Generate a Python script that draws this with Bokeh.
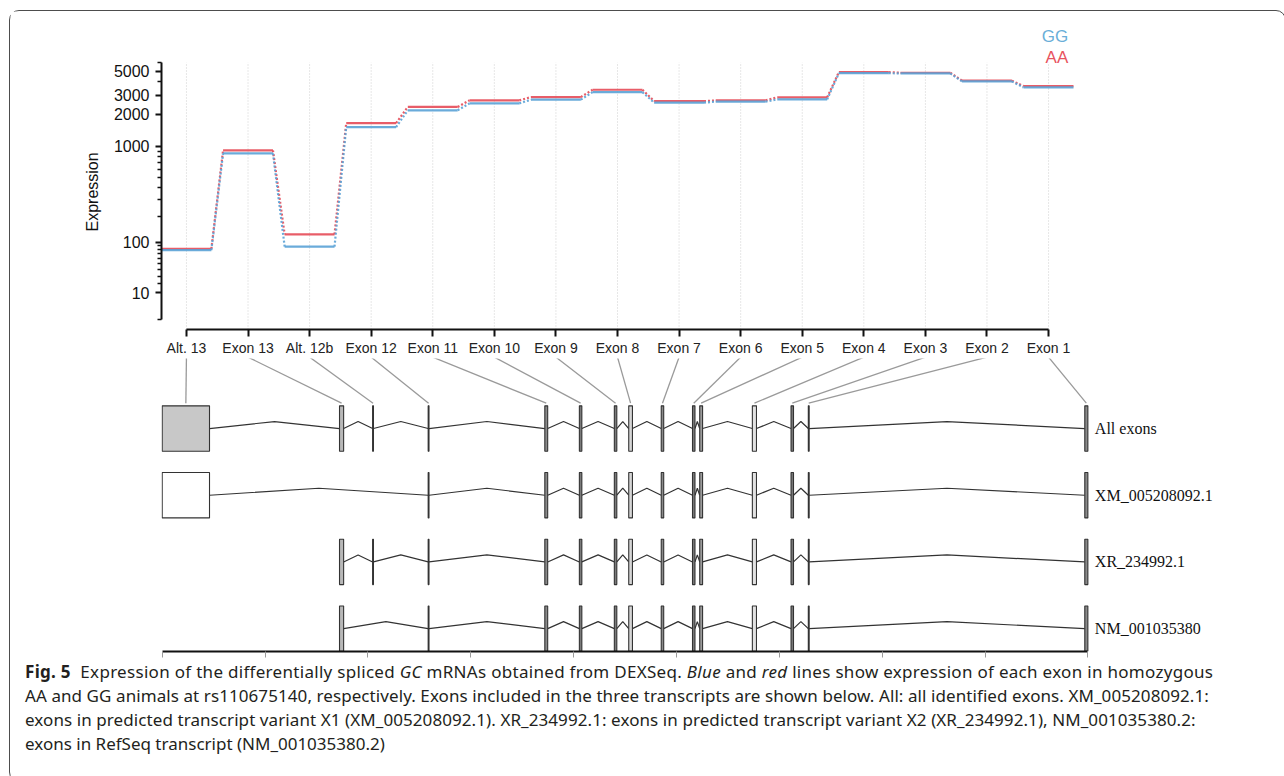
import numpy as np
from bokeh.plotting import figure
from bokeh.models import FixedTicker, CustomJSTickFormatter, Label, Div, Range1d, Title
from bokeh.layouts import column
from bokeh.embed import file_html
from bokeh.resources import INLINE
from bokeh.core.properties import value

# ---------------- data ----------------
exon_labels = ["Alt. 13", "Exon 13", "Alt. 12b", "Exon 12", "Exon 11", "Exon 10", "Exon 9",
               "Exon 8", "Exon 7", "Exon 6", "Exon 5", "Exon 4", "Exon 3", "Exon 2", "Exon 1"]
expr_AA = [82, 915, 125, 1650, 2330, 2680, 2875, 3360, 2640, 2680, 2860, 4880, 4820, 4070, 3630]
expr_GG = [79, 855, 88, 1515, 2170, 2515, 2720, 3195, 2555, 2610, 2740, 4780, 4750, 4010, 3530]
y_major = [10, 100, 1000, 2000, 3000, 5000]
y_minor = [20, 30, 40, 50, 60, 70, 80, 90, 200, 300, 400, 500, 600, 700, 800, 900, 4000, 6000]

# genomic layout of exons (kb from the left end of the locus)
exon_start_kb = [0.00, 8.62, 10.23, 12.93, 18.60, 20.28, 21.98, 22.68, 24.26, 25.78, 26.13, 28.69, 30.57, 31.41, 44.85]
exon_end_kb   = [2.30, 8.82, 10.27, 12.97, 18.74, 20.40, 22.10, 22.86, 24.38, 25.90, 26.27, 28.89, 30.69, 31.45, 45.00]
transcripts = ["All exons", "XM_005208092.1", "XR_234992.1", "NM_001035380"]
transcript_exons = [
    list(range(15)),
    [0] + list(range(3, 15)),
    list(range(1, 15)),
    [1] + list(range(3, 15)),
]
gene_ticks_kb = [0, 5, 10, 15, 20, 25, 30, 35, 40, 45]
legend_labels = ["GG", "AA"]
y_label = "Expression"

caption_lines = [
    "<span style='letter-spacing:0.3px'><b>Fig. 5</b>&nbsp; Expression of the differentially spliced <i>GC</i> mRNAs obtained from DEXSeq. <i>Blue</i> and <i>red</i> lines show expression of each exon in homozygous</span>",
    "<span style='letter-spacing:0.08px'>AA and GG animals at rs110675140, respectively. Exons included in the three transcripts are shown below. All: all identified exons. XM_005208092.1:</span>",
    "<span style='letter-spacing:0.08px'>exons in predicted transcript variant X1 (XM_005208092.1). XR_234992.1: exons in predicted transcript variant X2 (XR_234992.1), NM_001035380.2:</span>",
    "exons in RefSeq transcript (NM_001035380.2)",
]

# ---------------- styles ----------------
RED = "#e64b58"
BLUE = "#5aa2d6"
LEG_BLUE = "#6aaed8"
LEG_RED = "#e8535e"
exon_fill = ["#c8c8c8", "#b8b8b8", "#000000", "#000000", "#8a8a8a", "#7a7a7a", "#7a7a7a",
             "#d6d6d6", "#8a8a8a", "#7a7a7a", "#9a9a9a", "#e2e2e2", "#7a7a7a", "#000000", "#8a8a8a"]
alt13_fill_by_row = {0: "#c8c8c8", 1: "#ffffff"}

VST_OFFSET = 38.0


def vst(v):
    return np.log10(np.asarray(v, dtype=float) + VST_OFFSET)


W = 1265
FRAME_L = 151
FRAME_R = 35
n = len(exon_labels)
HALF = 0.405
PX_PER_UNIT_Y = 110.0

# ---------------- top: expression ----------------
tx0, tx1 = -0.405, 17.117
ty0, ty_axis_top = 1.3446, 3.781
ty1 = ty_axis_top + 40 / PX_PER_UNIT_Y
Y_FLOOR = 1.4344
top = figure(width=W, height=347, x_range=Range1d(tx0, tx1), y_range=Range1d(ty0, ty1),
             output_backend="svg", toolbar_location=None,
             min_border_left=FRAME_L, min_border_right=FRAME_R,
             min_border_top=11, min_border_bottom=28)
top.outline_line_color = None
top.background_fill_color = "white"
top.border_fill_color = "white"
top.ygrid.visible = False
top.xgrid.visible = False

xa = top.xaxis[0]
xa.ticker = FixedTicker(ticks=list(range(n)))
xa.major_label_overrides = {i: lab for i, lab in enumerate(exon_labels)}
xa.bounds = (0, n - 1)
xa.axis_line_width = 2
xa.axis_line_color = "#111111"
xa.major_tick_line_width = 2
xa.major_tick_line_color = "#111111"
xa.major_tick_out = 7
xa.major_tick_in = 0
xa.minor_tick_out = 0
xa.minor_tick_in = 0
xa.major_label_standoff = 3
xa.major_label_text_font = "Liberation Sans"
xa.major_label_text_font_size = "14px"
xa.major_label_text_color = "#222222"

ya = top.yaxis[0]
ya.ticker = FixedTicker(ticks=vst(y_major).tolist(),
                        minor_ticks=vst(y_minor).tolist() + [Y_FLOOR])
ya.formatter = CustomJSTickFormatter(args=dict(c=VST_OFFSET),
                                     code="return String(Math.round(Math.pow(10, tick) - c));")
ya.bounds = (Y_FLOOR, ty_axis_top)
ya.axis_line_width = 2
ya.axis_line_color = "#111111"
ya.major_tick_line_width = 2
ya.major_tick_line_color = "#111111"
ya.major_tick_out = 6
ya.major_tick_in = 0
ya.minor_tick_line_width = 1.5
ya.minor_tick_line_color = "#111111"
ya.minor_tick_out = 4
ya.minor_tick_in = 0
ya.major_label_standoff = 6
ya.major_label_text_font = "Liberation Sans"
ya.major_label_text_font_size = "16px"
ya.major_label_text_color = "#111111"

# y-axis title, centred on the drawn axis (not on the taller frame)
top.add_layout(Title(text=y_label, align="left", offset=98, standoff=20,
                     vertical_align="bottom", text_font="Liberation Sans",
                     text_font_size="16px", text_font_style="normal",
                     text_color="#111111"), "left")

idx = np.arange(n, dtype=float)
# dotted vertical grid at each exon tick, up to the top of the y axis
top.segment(x0=idx, x1=idx, y0=[ty0] * n, y1=[ty_axis_top] * n,
            line_color="#cfcfcf", line_width=1, line_dash="1 2")

for vals, col in [(expr_AA, RED), (expr_GG, BLUE)]:
    tv = vst(vals)
    top.segment(x0=idx - HALF, x1=idx + HALF, y0=tv, y1=tv,
                line_color=col, line_width=2.2, line_alpha=0.9)
    top.segment(x0=idx[:-1] + HALF, y0=tv[:-1], x1=idx[1:] - HALF, y1=tv[1:],
                line_color=col, line_width=2.2, line_dash="2 2", line_alpha=0.9)

top.add_layout(Label(x=14.32, y=ty_axis_top + 26 / PX_PER_UNIT_Y, text=legend_labels[0],
                     text_color=LEG_BLUE, text_align="right", text_baseline="middle",
                     text_font="Liberation Sans", text_font_size="17px"))
top.add_layout(Label(x=14.32, y=ty_axis_top + 5 / PX_PER_UNIT_Y, text=legend_labels[1],
                     text_color=LEG_RED, text_align="right", text_baseline="middle",
                     text_font="Liberation Sans", text_font_size="17px"))

# ---------------- gene model ----------------
gx0, gx1 = -0.034, 52.42
gy0, gy1 = -3.343, 1.05
H = 0.34
PEAK = 0.105
gene = figure(width=W, height=302, x_range=Range1d(gx0, gx1), y_range=Range1d(gy0, gy1),
              output_backend="svg", toolbar_location=None,
              min_border_left=FRAME_L, min_border_right=FRAME_R,
              min_border_top=0, min_border_bottom=9)
gene.outline_line_color = None
gene.xgrid.visible = False
gene.ygrid.visible = False
gene.yaxis.visible = False

gxa = gene.xaxis[0]
gxa.ticker = FixedTicker(ticks=gene_ticks_kb)
gxa.major_label_overrides = {t: "" for t in gene_ticks_kb}
gxa.bounds = (gene_ticks_kb[0], gene_ticks_kb[-1])
gxa.axis_line_width = 2
gxa.axis_line_color = "#111111"
gxa.major_tick_line_color = "#9a9a9a"
gxa.major_tick_line_width = 1
gxa.major_tick_out = 6
gxa.major_tick_in = 0
gxa.minor_tick_out = 0
gxa.minor_tick_in = 0
gxa.major_label_standoff = 0
gxa.major_label_text_font_size = "1px"

starts = np.array(exon_start_kb)
ends = np.array(exon_end_kb)
centers = (starts + ends) / 2

# connectors from the expression axis ticks to the exons
tick_in_gene = gx0 + (idx - tx0) / (tx1 - tx0) * (gx1 - gx0)
gene.segment(x0=tick_in_gene, y0=[gy1 + 0.02] * n, x1=centers, y1=[H + 0.04] * n,
             line_color="#9a9a9a", line_width=1.3)

for r, (name, members) in enumerate(zip(transcripts, transcript_exons)):
    y = -float(r)
    xs, ys = [], []
    for a, b in zip(members[:-1], members[1:]):
        xs.append([ends[a], (ends[a] + starts[b]) / 2, starts[b]])
        ys.append([y, y + PEAK, y])
    gene.multi_line(xs=xs, ys=ys, line_color="#333333", line_width=1.2)
    fills = []
    for e in members:
        if e == 0:
            fills.append(alt13_fill_by_row.get(r, "#c8c8c8"))
        else:
            fills.append(exon_fill[e])
    gene.quad(left=starts[members], right=ends[members],
              top=[y + H] * len(members), bottom=[y - H] * len(members),
              fill_color=fills, line_color="#333333", line_width=1.1)

gene.text(x=[gene_ticks_kb[-1]] * len(transcripts), y=[-float(r) for r in range(len(transcripts))],
          text=transcripts, x_offset=7, text_baseline="middle", text_align="left",
          text_font=value("Liberation Serif"), text_font_size="16px", text_color="#111111")

# ---------------- caption ----------------
caption_html = ("<div style=\"font-family:'Noto Sans',sans-serif;font-size:17px;line-height:24px;"
                "color:#231f20;padding-left:10px;white-space:nowrap;position:relative;top:-5px;\">"
                + "<br>".join(caption_lines) + "</div>")
caption = Div(text=caption_html, width=W, height=111)

layout = column(top, gene, caption, margin=(10, 0, 0, 9),
                styles={"border": "1px solid #4d4d4d", "border-radius": "10px",
                        "background-color": "white"})

open("out.html", "w").write(file_html(layout, INLINE))
